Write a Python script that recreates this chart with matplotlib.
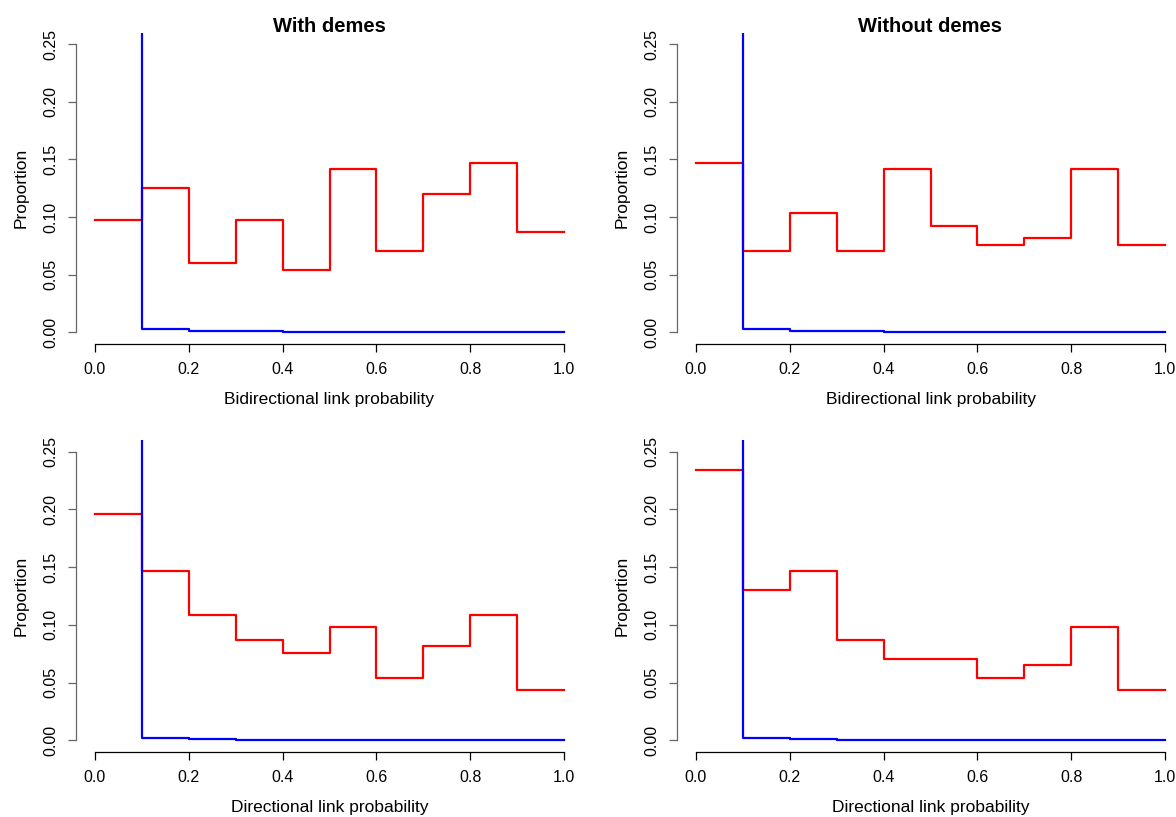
"""Posterior vs prior link probabilities, 2x2 step histograms (R base-graphics look)."""
import matplotlib
matplotlib.use("Agg")
import matplotlib.pyplot as plt

plt.rcParams["font.family"] = ["Liberation Sans", "DejaVu Sans"]

# bin edges 0.0 .. 1.0 in steps of 0.1
bin_edges = [0.0, 0.1, 0.2, 0.3, 0.4, 0.5, 0.6, 0.7, 0.8, 0.9, 1.0]

# red = observed proportions, blue = prior/null proportions (first bin far off the top)
bidir_demes = [0.0978, 0.1250, 0.0598, 0.0978, 0.0543, 0.1413, 0.0707, 0.1196, 0.1467, 0.0870]
bidir_nodemes = [0.1467, 0.0707, 0.1033, 0.0707, 0.1413, 0.0924, 0.0761, 0.0815, 0.1413, 0.0761]
dir_demes = [0.1957, 0.1467, 0.1087, 0.0870, 0.0761, 0.0978, 0.0543, 0.0815, 0.1087, 0.0435]
dir_nodemes = [0.2337, 0.1304, 0.1467, 0.0870, 0.0707, 0.0707, 0.0543, 0.0652, 0.0978, 0.0435]

prior_bidir = [0.9925, 0.0029, 0.0015, 0.0009, 0.0006, 0.0006, 0.0003, 0.0003, 0.0002, 0.0002]
prior_dir = [0.9945, 0.0023, 0.0011, 0.0006, 0.0004, 0.0003, 0.0003, 0.0002, 0.0002, 0.0001]

titles = ["With demes", "Without demes", None, None]
xlabels = ["Bidirectional link probability", "Bidirectional link probability",
           "Directional link probability", "Directional link probability"]
panels = [bidir_demes, bidir_nodemes, dir_demes, dir_nodemes]
priors = [prior_bidir, prior_bidir, prior_dir, prior_dir]

W, H = 1176, 817
fig = plt.figure(figsize=(W / 100, H / 100), dpi=100)

# plot regions in pixels: (left, top, right, bottom)
regions = [(76, 32.5, 583, 344), (677, 32.5, 1184, 344),
           (76, 440, 583, 752), (677, 440, 1184, 752)]


def steps(vals):
    # R type="s": repeat the last value so the final bin gets its flat top
    return list(vals) + [vals[-1]]


for (l, t, r, b), obs, prior, title, xlab in zip(regions, panels, priors, titles, xlabels):
    ax = fig.add_axes([l / W, 1 - b / H, (r - l) / W, (b - t) / H])
    ax.plot(bin_edges, steps(obs), drawstyle="steps-post", color="#FF0000", lw=1.6)
    ax.plot(bin_edges, steps(prior), drawstyle="steps-post", color="#0000FF", lw=1.6)

    ax.set_xlim(-0.04, 1.04)
    ax.set_ylim(-0.01, 0.26)
    ax.set_xticks([0.0, 0.2, 0.4, 0.6, 0.8, 1.0])
    ax.set_xticklabels(["0.0", "0.2", "0.4", "0.6", "0.8", "1.0"])
    ax.set_yticks([0.0, 0.05, 0.10, 0.15, 0.20, 0.25])
    ax.set_yticklabels(["0.00", "0.05", "0.10", "0.15", "0.20", "0.25"],
                       rotation=90, va="center")

    for s in ["top", "right"]:
        ax.spines[s].set_visible(False)
    ax.spines["bottom"].set_bounds(0, 1)
    ax.spines["left"].set_bounds(0, 0.25)
    ax.spines["left"].set_color("#666666")
    ax.spines["bottom"].set_linewidth(0.9)
    ax.spines["left"].set_linewidth(0.9)
    ax.tick_params(axis="x", length=5.8, width=0.9, pad=7, labelsize=11.5)
    ax.tick_params(axis="y", length=5.8, width=0.9, pad=7, labelsize=11.5,
                   color="#666666")

    ax.set_xlabel(xlab, fontsize=12.5)
    ax.xaxis.set_label_coords(0.5, -0.155)
    ax.set_ylabel("Proportion", fontsize=12.5)
    ax.yaxis.set_label_coords(-0.093, 0.5)

    if title:
        # baseline sits right on the top of the plot region, like R's main=
        ax.text(0.5, 1.0, title, transform=ax.transAxes, ha="center",
                va="baseline", fontsize=14.5, fontweight="bold")

fig.savefig("out.png", dpi=100, facecolor="white")
